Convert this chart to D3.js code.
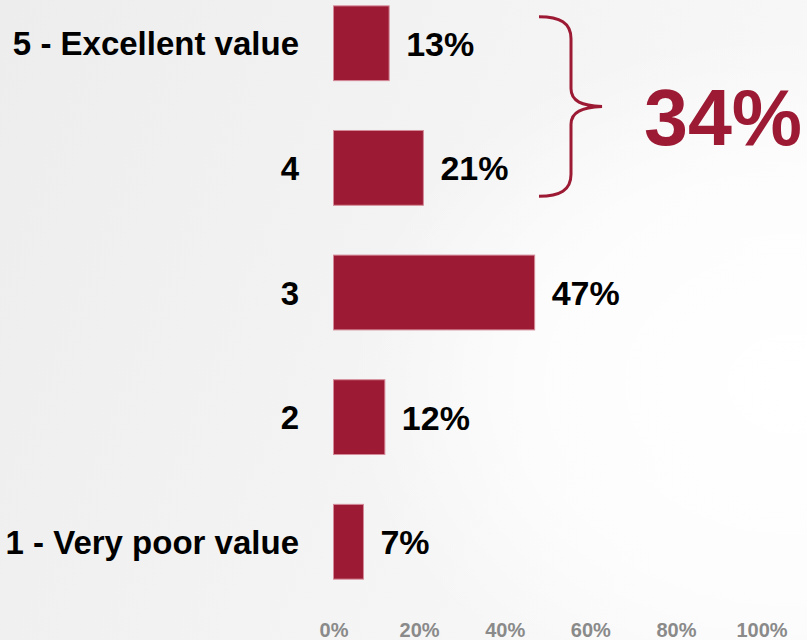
<!DOCTYPE html>
<html>
<head>
<meta charset="utf-8">
<script src="https://cdn.jsdelivr.net/npm/d3@7"></script>
<style>
  html, body { margin: 0; padding: 0; background: #f3f3f3; }
  svg { display: block; }
</style>
</head>
<body>
<svg id="chart" width="807" height="640"></svg>
<script>
const categories = ["5 - Excellent value", "4", "3", "2", "1 - Very poor value"];
const values = [13, 21, 47, 12, 7];
const tickValues = [0, 20, 40, 60, 80, 100];
const groupedCategories = ["5 - Excellent value", "4"];
const groupedTotal = "34%";

const W = 807, H = 640;
const svg = d3.select("#chart");
const barColor = "#9c1a33";

// background
const defs = svg.append("defs");
const lg = defs.append("linearGradient").attr("id", "bgLin").attr("x1", "0").attr("y1", "0").attr("x2", "1").attr("y2", "0.3");
lg.append("stop").attr("offset", "0").attr("stop-color", "#ededed");
lg.append("stop").attr("offset", "1").attr("stop-color", "#f8f8f8");
const rg = defs.append("radialGradient").attr("id", "bgRad")
  .attr("cx", 0.98).attr("cy", 0.6).attr("r", 0.55);
rg.append("stop").attr("offset", "0").attr("stop-color", "#ffffff").attr("stop-opacity", 1);
rg.append("stop").attr("offset", "0.6").attr("stop-color", "#ffffff").attr("stop-opacity", 0.7);
rg.append("stop").attr("offset", "1").attr("stop-color", "#ffffff").attr("stop-opacity", 0);
svg.append("rect").attr("width", W).attr("height", H).attr("fill", "url(#bgLin)");
svg.append("rect").attr("width", W).attr("height", H).attr("fill", "url(#bgRad)");

const x = d3.scaleLinear().domain([0, 100]).range([333.5, 761.5]);
const y = d3.scaleBand().domain(categories).range([-44, 629]).padding(0.4);

const font = "'Liberation Sans', Arial, sans-serif";

// bars
svg.append("g").selectAll("rect").data(categories).join("rect")
  .attr("x", x(0))
  .attr("y", d => y(d))
  .attr("width", (d, i) => x(values[i]) - x(0))
  .attr("height", y.bandwidth())
  .attr("fill", barColor)
  .attr("stroke", "#d48a98")
  .attr("stroke-width", 1);

// category labels
svg.append("g").selectAll("text").data(categories).join("text")
  .attr("x", 299)
  .attr("y", d => y(d) + y.bandwidth() / 2 + 12)
  .attr("text-anchor", "end")
  .attr("font-family", font)
  .attr("font-weight", "bold")
  .attr("font-size", 33)
  .attr("fill", "#000")
  .text(d => d);

// value labels
svg.append("g").selectAll("text").data(categories).join("text")
  .attr("x", (d, i) => x(values[i]) + 17)
  .attr("y", d => y(d) + y.bandwidth() / 2 + 12.5)
  .attr("font-family", font)
  .attr("font-weight", "bold")
  .attr("font-size", 34)
  .attr("fill", "#000")
  .text((d, i) => values[i] + "%");

// x axis
const axis = svg.append("g")
  .attr("transform", "translate(0,620)")
  .call(d3.axisBottom(x).tickValues(tickValues).tickSize(0).tickFormat(d => d + "%"));
axis.select(".domain").remove();
axis.selectAll("text")
  .attr("dy", 0).attr("y", 17)
  .attr("font-family", font)
  .attr("font-weight", "bold")
  .attr("font-size", 20)
  .attr("fill", "#8a8a8a");

// brace
const yTop = y(groupedCategories[0]) + 11;
const yBot = y(groupedCategories[groupedCategories.length - 1]) + y.bandwidth() - 9;
const mid = (yTop + yBot) / 2;
const bx0 = 539, bx1 = 571, bx2 = 602;
const p = d3.path();
p.moveTo(bx0, yTop);
p.bezierCurveTo(560, yTop, bx1, yTop + 6, bx1, yTop + 22);
p.lineTo(bx1, mid - 18);
p.bezierCurveTo(bx1, mid - 5, 582, mid - 1, bx2, mid);
p.bezierCurveTo(582, mid + 1, bx1, mid + 5, bx1, mid + 18);
p.lineTo(bx1, yBot - 22);
p.bezierCurveTo(bx1, yBot - 6, 560, yBot, bx0, yBot);
svg.append("path").attr("d", p.toString())
  .attr("fill", "none").attr("stroke", barColor).attr("stroke-width", 3);

svg.append("text")
  .attr("x", 644).attr("y", 145)
  .attr("font-family", font)
  .attr("font-weight", "bold")
  .attr("font-size", 79)
  .attr("fill", barColor)
  .text(groupedTotal);
</script>
</body>
</html>
